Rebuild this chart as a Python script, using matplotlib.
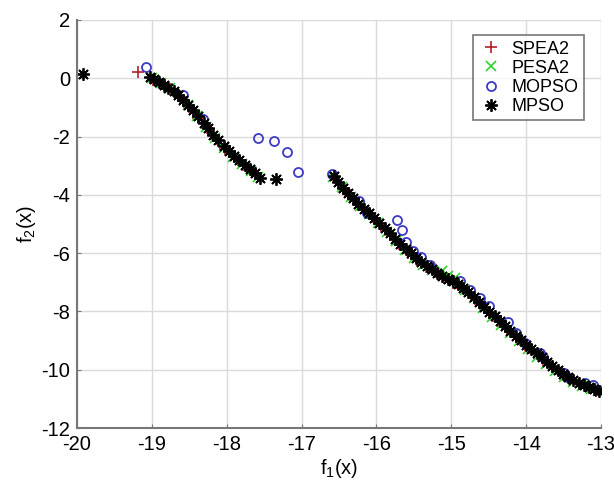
import matplotlib
matplotlib.use('Agg')
from matplotlib import pyplot as plt

plt.rcParams['font.family'] = ['Liberation Sans', 'DejaVu Sans']
plt.rcParams['mathtext.fontset'] = 'custom'
plt.rcParams['mathtext.rm'] = 'Liberation Sans'
plt.rcParams['axes.unicode_minus'] = False

# MPSO (black asterisks)
mpso_x = [-19.92,
          -19.03, -18.97, -18.90, -18.84, -18.78, -18.71, -18.65, -18.58,
          -18.52, -18.45, -18.38, -18.31, -18.25, -18.18, -18.11, -18.04,
          -17.97, -17.90, -17.83, -17.76, -17.69, -17.62, -17.55, -17.34,
          -16.57, -16.51, -16.45, -16.38, -16.31, -16.24, -16.17, -16.10,
          -16.03, -15.96, -15.89, -15.82, -15.75, -15.68, -15.61, -15.54,
          -15.47, -15.40, -15.33, -15.26, -15.19, -15.12, -15.05, -14.98,
          -14.91, -14.84, -14.77, -14.70, -14.63, -14.56, -14.49, -14.42,
          -14.35, -14.28, -14.21, -14.14, -14.07, -14.00, -13.93, -13.86,
          -13.79, -13.72, -13.65, -13.58, -13.51, -13.44, -13.37, -13.30,
          -13.23, -13.16, -13.09, -13.03]
mpso_y = [0.15,
          0.05, -0.03, -0.12, -0.22, -0.32, -0.45, -0.58, -0.74,
          -0.90, -1.10, -1.31, -1.52, -1.72, -1.93, -2.13, -2.33,
          -2.51, -2.67, -2.82, -2.97, -3.11, -3.26, -3.42, -3.44,
          -3.36, -3.56, -3.76, -3.95, -4.12, -4.30, -4.47, -4.63,
          -4.80, -4.97, -5.14, -5.32, -5.50, -5.68, -5.85, -6.01,
          -6.16, -6.31, -6.44, -6.56, -6.67, -6.78, -6.88, -6.97,
          -7.07, -7.18, -7.32, -7.49, -7.67, -7.84, -8.01, -8.17,
          -8.33, -8.50, -8.67, -8.83, -8.99, -9.14, -9.29, -9.43,
          -9.58, -9.73, -9.88, -10.02, -10.14, -10.26, -10.37, -10.46,
          -10.54, -10.60, -10.67, -10.73]

# SPEA2 (red plus)
spea2_x = [-19.19,
           -18.98, -18.86, -18.74, -18.62, -18.50, -18.38, -18.26, -18.14,
           -18.02, -17.90, -17.78, -17.66,
           -16.54, -16.42, -16.30, -16.18, -16.06, -15.94, -15.82, -15.70,
           -15.58, -15.46, -15.34, -15.22, -15.10, -14.98, -14.86, -14.74,
           -14.62, -14.50, -14.38, -14.26, -14.14, -14.02, -13.90, -13.78,
           -13.66, -13.54, -13.42, -13.30, -13.18, -13.06]
spea2_y = [0.21,
           -0.05, -0.19, -0.37, -0.63, -0.98, -1.35, -1.71, -2.07,
           -2.42, -2.71, -2.96, -3.21,
           -3.50, -3.85, -4.18, -4.48, -4.77, -5.07, -5.37, -5.68,
           -5.98, -6.23, -6.48, -6.66, -6.85, -7.02, -7.20, -7.44,
           -7.73, -8.04, -8.32, -8.60, -8.89, -9.16, -9.41, -9.66,
           -9.92, -10.15, -10.34, -10.50, -10.61, -10.72]

# PESA2 (green cross)
pesa2_x = [-19.00, -18.88, -18.76, -18.64, -18.52, -18.40, -18.28, -18.16,
           -18.04, -17.92, -17.80, -17.68, -17.58,
           -16.58, -16.46, -16.34, -16.22, -16.10, -15.98, -15.86, -15.74,
           -15.62, -15.50, -15.38, -15.26, -15.13, -15.04, -14.95, -14.82,
           -14.70, -14.58, -14.46, -14.34, -14.22, -14.10, -13.98, -13.86,
           -13.74, -13.62, -13.50, -13.38, -13.26, -13.14, -13.04]
pesa2_y = [0.00, -0.15, -0.33, -0.58, -0.93, -1.30, -1.68, -2.05,
           -2.40, -2.70, -2.95, -3.18, -3.38,
           -3.38, -3.74, -4.08, -4.38, -4.66, -4.96, -5.27, -5.57,
           -5.88, -6.15, -6.39, -6.58, -6.62, -6.78, -6.86, -7.25,
           -7.55, -7.88, -8.18, -8.46, -8.75, -9.03, -9.30, -9.55,
           -9.80, -10.05, -10.25, -10.42, -10.56, -10.65, -10.74]

# MOPSO (blue circles)
mopso_x = [-19.08, -18.59, -18.32,
           -17.58, -17.37, -17.20, -17.05,
           -16.59, -16.23, -16.12, -15.72, -15.66, -15.61, -15.51, -15.41,
           -15.28, -14.88, -14.75, -14.62, -14.50, -14.24, -14.14, -14.02,
           -13.82, -13.78, -13.50, -13.46, -13.22, -13.11, -13.04]
mopso_y = [0.39, -0.57, -1.40,
           -2.04, -2.15, -2.54, -3.21,
           -3.27, -4.22, -4.63, -4.85, -5.19, -5.61, -5.93, -6.12,
           -6.42, -6.94, -7.25, -7.55, -7.80, -8.36, -8.74, -9.10,
           -9.44, -9.55, -10.12, -10.26, -10.47, -10.52, -10.68]

x_ticks = [-20, -19, -18, -17, -16, -15, -14, -13]
y_ticks = [2, 0, -2, -4, -6, -8, -10, -12]

fig = plt.figure(figsize=(6.14, 4.84), dpi=100)
ax = fig.add_axes([0.1254, 0.1157, 0.8534, 0.843])

ax.plot(spea2_x, spea2_y, linestyle='none', marker='+', color='#B0202A',
        markersize=8, markeredgewidth=1.2, label='SPEA2')
ax.plot(pesa2_x, pesa2_y, linestyle='none', marker='x', color='#2BD42B',
        markersize=7, markeredgewidth=1.2, label='PESA2')
ax.plot(mopso_x, mopso_y, linestyle='none', marker='o', markerfacecolor='none',
        markeredgecolor='#3B3BC4', markersize=6.5, markeredgewidth=1.3,
        label='MOPSO')
ax.plot(mpso_x, mpso_y, linestyle='none', marker=(8, 2, 0), color='black',
        markersize=9, markeredgewidth=1.3, label='MPSO')

ax.set_xlim(-20, -13)
ax.set_ylim(-12, 2)
ax.set_xticks(x_ticks)
ax.set_yticks(y_ticks)
ax.grid(True, color='#DADADA', linewidth=1.0)
ax.set_axisbelow(True)

for side in ['top', 'right']:
    ax.spines[side].set_visible(False)
for side in ['left', 'bottom']:
    ax.spines[side].set_color('#777777')
    ax.spines[side].set_linewidth(1.5)

ax.tick_params(direction='in', length=3, color='#777777', labelsize=14.5,
               labelcolor='black', pad=5)

ax.set_xlabel('f$_1$(x)', fontsize=14.5, labelpad=2)
ax.set_ylabel('f$_2$(x)', fontsize=14.5, labelpad=2)

leg = ax.legend(loc='upper right', bbox_to_anchor=(0.967, 0.963), fontsize=13,
                frameon=True, fancybox=False, borderpad=0.3,
                labelspacing=0.12, handletextpad=0.4, handlelength=1.4,
                borderaxespad=0.0)
leg.get_frame().set_edgecolor('#555555')
leg.get_frame().set_linewidth(1.2)

fig.savefig('out.png', dpi=100)
